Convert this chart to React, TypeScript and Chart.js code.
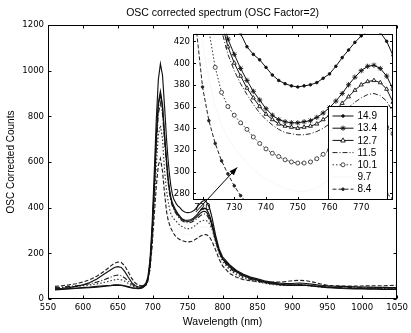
import React, { useEffect, useRef } from "react";
import { Chart, registerables } from "chart.js";

Chart.register(...registerables);

// ---------- data ----------
const wavelengths = [
  560, 570, 580, 590, 600, 610, 620, 630, 640,
  645, 650, 655, 660, 665, 670, 675, 680, 685, 690,
  693, 696, 699, 702, 705, 708, 711, 714, 717,
  720, 722, 724, 726, 728, 730, 732, 734, 736, 738, 740, 742, 744, 746, 748, 750,
  752, 754, 756, 758, 760, 762, 764, 766, 768, 770, 772, 774, 776, 778, 780, 782,
  785, 790, 795, 800,
  810, 820, 830, 840, 850, 860, 870, 880, 890, 900, 910, 920, 930, 940, 950, 960,
  970, 980, 990, 1000, 1010, 1020, 1030, 1040, 1050,
];

const s149 = [
  45, 47, 50, 55, 62, 72, 88, 108, 128,
  138, 142, 138, 120, 95, 72, 58, 52, 54, 68,
  95, 170, 320, 540, 780, 960, 1030, 980, 840,
  690, 610, 545, 495, 460, 438, 427, 415, 408, 403, 396, 389, 384, 381, 379, 378,
  379, 380, 382, 386, 390, 397, 405, 412, 419, 425, 429, 431, 428, 420, 407, 392,
  355, 280, 220, 185,
  150, 125, 108, 96, 88, 80, 74, 70, 68, 68, 70, 68, 64, 60, 58, 56,
  55, 54, 53, 52, 52, 51, 51, 50, 50,
];

const s134 = [
  42, 44, 46, 48, 50, 52, 55, 58, 60,
  62, 62, 61, 58, 54, 50, 48, 46, 50, 62,
  85, 150, 290, 480, 700, 860, 910, 850, 720,
  600, 530, 480, 445, 422, 408, 395, 384, 374, 366, 358, 352, 348, 346, 345, 345,
  346, 347, 350, 354, 359, 365, 372, 380, 387, 393, 397, 398, 395, 388, 376, 360,
  330, 265, 212, 178,
  145, 122, 105, 92, 84, 76, 70, 66, 63, 62, 62, 61, 58, 55, 52, 50,
  48, 47, 46, 46, 45, 45, 44, 44, 44,
];

const s127 = [
  40, 42, 44, 46, 48, 50, 52, 55, 58,
  60, 60, 59, 56, 52, 48, 46, 45, 48, 60,
  80, 145, 280, 470, 690, 850, 895, 840, 705,
  590, 522, 472, 438, 415, 400, 388, 377, 368, 360, 353, 348, 344, 342, 341, 340,
  341, 342, 344, 348, 352, 357, 363, 369, 375, 380, 383, 384, 382, 376, 364, 350,
  322, 260, 208, 175,
  140, 118, 102, 90, 82, 74, 68, 64, 61, 60, 60, 59, 56, 53, 50, 48,
  46, 45, 44, 44, 43, 43, 42, 42, 42,
];

const s115 = [
  50, 52, 55, 58, 62, 67, 74, 84, 96,
  102, 105, 102, 92, 78, 64, 55, 50, 52, 64,
  88, 150, 280, 460, 660, 810, 860, 810, 690,
  575, 510, 463, 430, 408, 393, 381, 371, 362, 354, 348, 343, 339, 336, 335, 334,
  334, 335, 337, 340, 344, 349, 354, 359, 364, 368, 371, 372, 370, 365, 355, 342,
  315, 255, 205, 172,
  135, 113, 98, 86, 78, 71, 66, 63, 61, 61, 62, 61, 58, 55, 53, 52,
  51, 50, 50, 49, 49, 48, 48, 48, 48,
];

const s101 = [
  48, 50, 52, 55, 58, 62, 66, 72, 80,
  84, 86, 84, 78, 68, 58, 52, 48, 50, 60,
  80, 130, 240, 400, 580, 720, 760, 700, 560,
  470, 430, 396, 373, 360, 352, 345, 339, 332, 326, 321, 317, 314, 311, 309, 308,
  308, 309, 312, 316, 320, 325, 330, 335, 339, 342, 344, 345, 344, 341, 335, 325,
  305, 250, 200, 165,
  128, 106, 92, 82, 75, 69, 64, 61, 59, 59, 60, 59, 56, 53, 51, 50,
  49, 48, 48, 47, 47, 47, 46, 46, 46,
];

const s97 = [
  46, 48, 50, 52, 55, 58, 62, 66, 71,
  74, 75, 74, 69, 62, 55, 50, 47, 49, 58,
  76, 122, 220, 370, 535, 660, 690, 630, 500,
  420, 385, 360, 343, 331, 322, 315, 308, 302, 297, 293, 290, 287, 285, 283, 282,
  282, 283, 285, 289, 293, 298, 303, 308, 312, 315, 317, 318, 317, 314, 308, 299,
  280, 230, 185, 152,
  118, 98, 86, 77, 71, 66, 62, 59, 57, 57, 58, 57, 55, 52, 50, 49,
  48, 47, 47, 46, 46, 46, 45, 45, 45,
];

const s84 = [
  55, 58, 62, 67, 74, 85, 100, 120, 145,
  156, 162, 160, 145, 118, 90, 70, 60, 58, 66,
  85, 130, 225, 360, 490, 585, 615, 560, 460,
  378, 347, 326, 310, 298, 287, 278, 271, 266, 262, 259, 256, 254, 252, 251, 250,
  250, 251, 253, 256, 259, 263, 267, 271, 275, 278, 280, 282, 282, 280, 275, 268,
  252, 215, 175, 145,
  112, 95, 85, 80, 77, 75, 74, 74, 76, 80, 82, 80, 74, 66, 60, 58,
  57, 57, 57, 57, 58, 58, 58, 59, 60,
];

const seriesLabels = ["14.9", "13.4", "12.7", "11.5", "10.1", "9.7", "8.4"];
const seriesValues = [s149, s134, s127, s115, s101, s97, s84];

const mainXTicks = [550, 600, 650, 700, 750, 800, 850, 900, 950, 1000, 1050];
const mainYTicks = [0, 200, 400, 600, 800, 1000, 1200];
const insetXTicks = [720, 730, 740, 750, 760, 770];
const insetYTicks = [280, 300, 320, 340, 360, 380, 400, 420];

const titleText = "OSC corrected spectrum (OSC Factor=2)";
const xTitleText = "Wavelength (nm)";
const yTitleText = "OSC Corrected Counts";

// arrow annotation in inset data coordinates
const arrowFrom = { x: 717.9, y: 263 };
const arrowTo = { x: 730.9, y: 304 };

// ---------- styles ----------
const TICK_FONT =
  "'Liberation Sans Narrow','DejaVu Sans Condensed','Liberation Sans',Arial,sans-serif";
const TEXT_FONT = "'Liberation Sans',Arial,Helvetica,sans-serif";

type Style = {
  color: string;
  dash: number[];
  point: string | false;
  radius: number;
  fill: string;
  order: number;
};

const styles: Style[] = [
  { color: "#111", dash: [], point: "circle", radius: 1.3, fill: "#111", order: 0 },
  { color: "#111", dash: [], point: "star", radius: 2.6, fill: "#111", order: 0 },
  { color: "#111", dash: [], point: "triangle", radius: 2.3, fill: "#fff", order: 0 },
  { color: "#222", dash: [5, 2, 1, 2], point: false, radius: 0, fill: "#222", order: 0 },
  { color: "#333", dash: [1.5, 2], point: "circle", radius: 2, fill: "#fff", order: 0 },
  { color: "#f7f7f7", dash: [], point: false, radius: 0, fill: "#f7f7f7", order: 1 },
  { color: "#222", dash: [4, 2], point: "circle", radius: 1.3, fill: "#222", order: 0 },
];

function buildDatasets(withMarkers: boolean) {
  return seriesValues.map((vals, si) => {
    const st = styles[si];
    return {
      label: seriesLabels[si],
      data: wavelengths.map((x, i) => ({ x, y: vals[i] })),
      borderColor: st.color,
      borderWidth: withMarkers ? 1 : 1.15,
      borderDash: st.dash,
      pointRadius: withMarkers && st.point ? st.radius : 0,
      pointStyle: st.point || "circle",
      pointBackgroundColor: st.fill,
      pointBorderColor: st.color,
      pointBorderWidth: 0.9,
      tension: 0,
      fill: false,
      order: st.order,
      clip: 0,
    };
  });
}

function framePlugin(xT: number[], yT: number[], len: number) {
  return {
    id: "frame",
    afterDraw(chart: any) {
      const { ctx, chartArea: a, scales } = chart;
      ctx.save();
      ctx.strokeStyle = "#000";
      ctx.lineWidth = 1;
      ctx.setLineDash([]);
      const l = Math.round(a.left) + 0.5;
      const r = Math.round(a.right) - 0.5;
      const t = Math.round(a.top) + 0.5;
      const b = Math.round(a.bottom) - 0.5;
      ctx.strokeRect(l, t, r - l, b - t);
      ctx.beginPath();
      for (const v of xT) {
        const px = Math.round(scales.x.getPixelForValue(v)) + 0.5;
        ctx.moveTo(px, b);
        ctx.lineTo(px, b - len);
        ctx.moveTo(px, t);
        ctx.lineTo(px, t + len);
      }
      for (const v of yT) {
        const py = Math.round(scales.y.getPixelForValue(v)) + 0.5;
        ctx.moveTo(l, py);
        ctx.lineTo(l + len, py);
        ctx.moveTo(r, py);
        ctx.lineTo(r - len, py);
      }
      ctx.stroke();
      ctx.restore();
    },
  };
}

const whiteAreaPlugin = {
  id: "whiteArea",
  beforeDraw(chart: any) {
    const { ctx, chartArea: a } = chart;
    ctx.save();
    ctx.fillStyle = "#fff";
    ctx.fillRect(a.left, a.top, a.right - a.left, a.bottom - a.top);
    ctx.restore();
  },
};

const whiteCanvasPlugin = {
  id: "whiteCanvas",
  beforeDraw(chart: any) {
    const { ctx, width, height } = chart;
    ctx.save();
    ctx.fillStyle = "#fff";
    ctx.fillRect(0, 0, width, height);
    ctx.restore();
  },
};

const mainTextPlugin = {
  id: "mainText",
  afterDraw(chart: any) {
    const { ctx, chartArea: a } = chart;
    ctx.save();
    ctx.fillStyle = "#000";
    ctx.textAlign = "center";
    ctx.textBaseline = "middle";
    const cx = (a.left + a.right) / 2;
    ctx.font = `10.5px ${TEXT_FONT}`;
    ctx.fillText(titleText, cx, a.top - 12);
    ctx.fillText(xTitleText, cx, a.bottom + 23);
    ctx.translate(a.left - 37, (a.top + a.bottom) / 2);
    ctx.rotate(-Math.PI / 2);
    ctx.font = `10px ${TEXT_FONT}`;
    ctx.fillText(yTitleText, 0, 0);
    ctx.restore();
  },
};

function drawMarker(ctx: CanvasRenderingContext2D, st: Style, x: number, y: number) {
  if (!st.point) return;
  const r = st.radius;
  ctx.save();
  ctx.setLineDash([]);
  ctx.strokeStyle = st.color;
  ctx.fillStyle = st.fill;
  ctx.lineWidth = 0.9;
  ctx.beginPath();
  if (st.point === "circle") {
    ctx.arc(x, y, r, 0, Math.PI * 2);
    ctx.fill();
    ctx.stroke();
  } else if (st.point === "triangle") {
    ctx.moveTo(x, y - r * 1.1);
    ctx.lineTo(x + r, y + r * 0.7);
    ctx.lineTo(x - r, y + r * 0.7);
    ctx.closePath();
    ctx.fill();
    ctx.stroke();
  } else if (st.point === "star") {
    for (let k = 0; k < 4; k++) {
      const ang = (k * Math.PI) / 4;
      ctx.moveTo(x - r * Math.cos(ang), y - r * Math.sin(ang));
      ctx.lineTo(x + r * Math.cos(ang), y + r * Math.sin(ang));
    }
    ctx.stroke();
  }
  ctx.restore();
}

const insetLegendPlugin = {
  id: "insetLegend",
  afterDraw(chart: any) {
    const { ctx, chartArea: a } = chart;
    const bx = Math.round(a.left + 135) + 0.5;
    const by = Math.round(a.top + 72) + 0.5;
    const bw = 59;
    const bh = 93;
    ctx.save();
    ctx.fillStyle = "#fff";
    ctx.fillRect(bx, by, bw, bh);
    ctx.strokeStyle = "#000";
    ctx.lineWidth = 1;
    ctx.setLineDash([]);
    ctx.strokeRect(bx, by, bw, bh);
    ctx.font = `10px ${TEXT_FONT}`;
    ctx.textAlign = "left";
    ctx.textBaseline = "middle";
    seriesLabels.forEach((lab, i) => {
      const st = styles[i];
      const y = by + 9.5 + 12.2 * i;
      ctx.save();
      ctx.strokeStyle = st.color;
      ctx.lineWidth = 1;
      ctx.setLineDash(st.dash);
      ctx.beginPath();
      ctx.moveTo(bx + 4, y);
      ctx.lineTo(bx + 25, y);
      ctx.stroke();
      ctx.restore();
      drawMarker(ctx, st, bx + 14.5, y);
      ctx.fillStyle = "#000";
      ctx.fillText(lab, bx + 29, y + 0.5);
    });
    ctx.restore();
  },
};

const insetArrowPlugin = {
  id: "insetArrow",
  afterDraw(chart: any) {
    const { ctx, scales } = chart;
    const x1 = scales.x.getPixelForValue(arrowFrom.x);
    const y1 = scales.y.getPixelForValue(arrowFrom.y);
    const x2 = scales.x.getPixelForValue(arrowTo.x);
    const y2 = scales.y.getPixelForValue(arrowTo.y);
    const ang = Math.atan2(y2 - y1, x2 - x1);
    const hl = 8;
    const hw = 3;
    ctx.save();
    ctx.strokeStyle = "#000";
    ctx.fillStyle = "#000";
    ctx.lineWidth = 1;
    ctx.setLineDash([]);
    ctx.beginPath();
    ctx.moveTo(x1, y1);
    ctx.lineTo(x2, y2);
    ctx.stroke();
    const bxp = x2 - hl * Math.cos(ang);
    const byp = y2 - hl * Math.sin(ang);
    ctx.beginPath();
    ctx.moveTo(x2, y2);
    ctx.lineTo(bxp + hw * Math.sin(ang), byp - hw * Math.cos(ang));
    ctx.lineTo(bxp - hw * Math.sin(ang), byp + hw * Math.cos(ang));
    ctx.closePath();
    ctx.fill();
    ctx.restore();
  },
};

function axisOpts(
  min: number,
  max: number,
  ticks: number[],
  isX: boolean,
  size: number,
  pad: number
) {
  return {
    type: "linear",
    min,
    max,
    position: isX ? "bottom" : "left",
    afterBuildTicks: (axis: any) => {
      axis.ticks = ticks.map((v) => ({ value: v }));
    },
    afterFit: (axis: any) => {
      if (isX) axis.height = size;
      else axis.width = size;
    },
    grid: { display: false, drawTicks: false },
    border: { display: false },
    ticks: {
      autoSkip: false,
      maxRotation: 0,
      padding: pad,
      color: "#000",
      font: { family: TICK_FONT, size: 9.5 },
      callback: (v: any) => String(v),
    },
  };
}

export default function App() {
  const mainRef = useRef<HTMLCanvasElement>(null);
  const insetRef = useRef<HTMLCanvasElement>(null);

  useEffect(() => {
    if (!mainRef.current || !insetRef.current) return;
    const main = new Chart(mainRef.current, {
      type: "line",
      data: { datasets: buildDatasets(false) as any },
      options: {
        responsive: false,
        animation: false,
        devicePixelRatio: 1,
        layout: { padding: { left: 0, right: 11, top: 25, bottom: 0 } },
        plugins: { legend: { display: false }, tooltip: { enabled: false }, title: { display: false } },
        scales: {
          x: axisOpts(550, 1050, mainXTicks, true, 34, 3) as any,
          y: axisOpts(0, 1200, mainYTicks, false, 48, 4) as any,
        },
      },
      plugins: [whiteCanvasPlugin, framePlugin(mainXTicks, mainYTicks, 3), mainTextPlugin],
    });

    const inset = new Chart(insetRef.current, {
      type: "line",
      data: { datasets: buildDatasets(true) as any },
      options: {
        responsive: false,
        animation: false,
        devicePixelRatio: 1,
        layout: { padding: { left: 0, right: 7, top: 5, bottom: 0 } },
        plugins: { legend: { display: false }, tooltip: { enabled: false }, title: { display: false } },
        scales: {
          x: axisOpts(717, 780, insetXTicks, true, 15, 2) as any,
          y: axisOpts(274, 427, insetYTicks, false, 33, 3) as any,
        },
      },
      plugins: [whiteAreaPlugin, framePlugin(insetXTicks, insetYTicks, 2.5), insetLegendPlugin, insetArrowPlugin],
    });

    return () => {
      main.destroy();
      inset.destroy();
    };
  }, []);

  return (
    <div style={{ position: "absolute", left: 0, top: 0, width: 411, height: 333, background: "#fff" }}>
      <canvas ref={mainRef} width={411} height={333} style={{ position: "absolute", left: 0, top: 0 }} />
      <canvas ref={insetRef} width={240} height={190} style={{ position: "absolute", left: 160, top: 25 }} />
    </div>
  );
}
